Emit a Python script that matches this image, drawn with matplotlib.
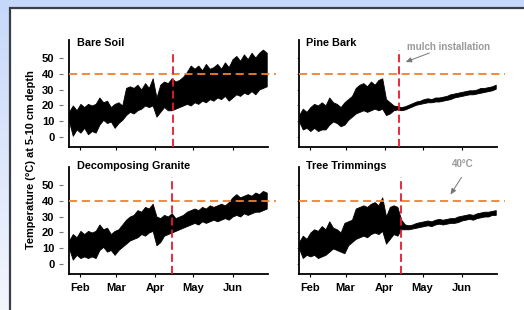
import numpy as np
import pandas as pd
import matplotlib
matplotlib.use('Agg')
import matplotlib.pyplot as plt
import matplotlib.dates as mdates
from matplotlib.patches import Rectangle

plt.rcParams['font.family'] = ['Liberation Sans', 'DejaVu Sans']
plt.rcParams['font.weight'] = 'bold'

# readings every 3 days from 23 Jan, daily low / high (deg C)
start_date = '2009-01-23'
bare_hi = [16, 20, 17, 21, 19, 21, 20, 21, 25, 22, 23, 19, 21, 22, 20, 31, 32, 31, 33, 30,
           34, 31, 37, 25, 33, 35, 34, 37, 35, 36, 38, 41, 45, 43, 45, 42, 46, 43, 44, 46,
           43, 47, 44, 49, 51, 48, 52, 49, 53, 50, 53, 55, 53]
bare_lo = [10, 1, 5, 3, 6, 2, 4, 3, 8, 11, 9, 10, 6, 9, 11, 14, 16, 15, 17, 18,
           20, 19, 20, 13, 16, 19, 17, 17, 18, 19, 20, 21, 20, 22, 21, 23, 22, 24, 23, 25,
           24, 26, 23, 25, 27, 26, 28, 27, 29, 27, 30, 31, 32]
pine_hi = [14, 18, 16, 19, 21, 20, 22, 20, 25, 22, 21, 19, 22, 24, 26, 31, 33, 34, 32, 35,
           33, 36, 37, 24, 22, 20, 19.5, 19, 19.5, 20.5, 21.5, 22.5, 23, 24, 24.5, 24, 25, 25, 25.5, 26,
           27, 27.5, 28, 28.5, 29, 29.5, 29.5, 30, 31, 31, 31.5, 32, 33]
pine_lo = [10, 5, 6, 4, 6, 4, 5, 5, 8, 10, 9, 7, 8, 11, 13, 15, 16, 17, 16, 17,
           18, 17, 18, 14, 15, 17, 17.5, 17, 17.5, 18.5, 19.5, 20.5, 21, 21.5, 22, 22, 22.5, 22.5, 23, 23.5,
           24, 25, 25.5, 26, 26.5, 27, 27, 27.5, 28, 28.5, 29, 29.5, 30.5]
granite_hi = [15, 19, 17, 21, 19, 21, 20, 21, 25, 22, 23, 19, 21, 22, 25, 28, 30, 31, 34, 33,
              36, 35, 38, 30, 29, 31, 30, 32, 29, 30, 31, 33, 34, 35, 34, 36, 35, 37, 36, 37,
              38, 37, 39, 42, 44, 42, 43, 44, 43, 45, 44, 46, 45]
granite_lo = [10, 3, 6, 4, 5, 4, 5, 4, 9, 11, 8, 9, 6, 9, 11, 13, 15, 16, 17, 19,
              18, 20, 21, 12, 14, 18, 19, 20, 21, 22, 23, 24, 25, 26, 25, 27, 26, 27, 28, 27,
              28, 29, 28, 30, 31, 30, 32, 31, 32, 33, 33, 34, 35]
trim_hi = [14, 18, 16, 20, 22, 21, 24, 22, 27, 23, 22, 20, 26, 27, 28, 35, 36, 37, 36, 38,
           39, 37, 42, 30, 36, 37, 36, 28, 25, 24.5, 25, 26, 26.5, 27, 27.5, 27, 28, 28.5, 28, 28.5,
           29, 29, 30, 30.5, 31, 31.5, 31, 32, 32.5, 33, 33, 33.5, 34]
trim_lo = [10, 4, 6, 5, 6, 4, 5, 6, 8, 10, 9, 8, 7, 12, 14, 16, 17, 18, 17, 19,
           20, 19, 21, 13, 16, 19, 18, 22, 22, 22, 22.5, 23, 23.5, 24, 24.5, 24, 25, 25.5, 25, 25.5,
           26, 26, 26.5, 27.5, 28, 28.5, 28, 29, 29.5, 30, 30, 31, 31]

panels = ['Bare Soil', 'Pine Bark', 'Decomposing Granite', 'Tree Trimmings']
highs = [bare_hi, pine_hi, granite_hi, trim_hi]
lows = [bare_lo, pine_lo, granite_lo, trim_lo]
mulch_dates = ['2009-04-15', '2009-04-12', '2009-04-14', '2009-04-14']
threshold = 40
yticks = [0, 10, 20, 30, 40, 50]
month_ticks = ['2009-02-01', '2009-03-01', '2009-04-01', '2009-05-01', '2009-06-01']
month_labels = ['Feb', 'Mar', 'Apr', 'May', 'Jun']

W, H = 524, 310
fig = plt.figure(figsize=(W / 100, H / 100), dpi=100)

# slide background
bg = fig.add_axes([0, 0, 1, 1])
bg.set_zorder(-1)
grad = np.linspace(0, 1, 100).reshape(-1, 1)
top_c = np.array([198, 216, 250]) / 255
bot_c = np.array([243, 246, 253]) / 255
img = top_c + (bot_c - top_c) * grad[:, :, None]
bg.imshow(img, extent=[0, W, H, 0], aspect='auto')
bg.set_xlim(0, W)
bg.set_ylim(H, 0)
bg.axis('off')
bg.add_patch(Rectangle((9.5, 8), W, H, facecolor='white', edgecolor='#3a3e48', lw=1.6))

# axes boxes in pixels: left, top, right, bottom
boxes = [(69, 40, 268, 147), (299, 40, 497, 147), (69, 167, 268, 274), (299, 167, 497, 274)]
title_y = [0.97, 0.97, 1.01, 1.01]

for i, name in enumerate(panels):
    l, t, r, b = boxes[i]
    ax = fig.add_axes([l / W, 1 - b / H, (r - l) / W, (b - t) / H])
    ax.patch.set_alpha(0)
    dates = pd.date_range(start_date, periods=len(highs[i]), freq='3D')
    ax.fill_between(dates, lows[i], highs[i], color='black', lw=0.6, edgecolor='black')
    ax.set_xlim(pd.Timestamp('2009-01-23'), pd.Timestamp('2009-06-29'))
    ax.set_ylim(-6, 61)

    ax.axhline(threshold, xmin=0, xmax=1.038, color='#f57f2a', lw=1.3,
               ls=(0, (4.5, 2.6)), clip_on=False, zorder=3)
    md = pd.Timestamp(mulch_dates[i])
    ax.plot([md, md], [-6, 55], color='#e8192c', lw=1.3, ls=(0, (4.5, 2.2)), zorder=4)

    for s in ['top', 'right']:
        ax.spines[s].set_visible(False)
    for s in ['left', 'bottom']:
        ax.spines[s].set_linewidth(1.3)

    ax.set_xticks(pd.to_datetime(month_ticks))
    ax.tick_params(axis='x', length=2.5, width=0.8, pad=4)
    if i >= 2:
        ax.set_xticklabels(month_labels, fontsize=8, fontweight='bold')
    else:
        ax.set_xticklabels([])

    ax.set_yticks(yticks)
    if i % 2 == 0:
        ax.tick_params(axis='y', length=0, pad=10.5)
        ax.set_yticklabels([str(v) for v in yticks], fontsize=8, fontweight='bold')
        ax.plot([-0.04] * len(yticks), yticks, ls='none', marker='_', ms=2.2, mew=0.8,
                color='#777777', transform=ax.get_yaxis_transform(), clip_on=False)
    else:
        ax.tick_params(axis='y', length=1.8, width=0.7, color='#777777')
        ax.set_yticklabels([])

    ax.text(0.04 if i % 2 == 0 else 0.034, title_y[i], name, transform=ax.transAxes,
            fontsize=7.8, fontweight='bold', va='center', ha='left')

fig.text(31 / W, 1 - 160 / H, 'Temperature (°C) at 5-10 cm depth', rotation=90,
         fontsize=7.9, fontweight='bold', ha='center', va='center')

grey = '#9a9a9a'
bg.text(407, 47, 'mulch installation', fontsize=7, fontweight='bold', color=grey,
        ha='left', va='center')
bg.annotate('', xy=(403, 63), xytext=(432, 52),
            arrowprops=dict(arrowstyle='-|>,head_length=0.35,head_width=0.15', color='#777777', lw=0.7))
bg.text(463, 164, '40°C', fontsize=7, fontweight='bold', color=grey, ha='center', va='center')
bg.annotate('', xy=(449, 197), xytext=(463, 175),
            arrowprops=dict(arrowstyle='-|>,head_length=0.35,head_width=0.15', color='#777777', lw=0.7))

fig.savefig('out.png', dpi=100)
